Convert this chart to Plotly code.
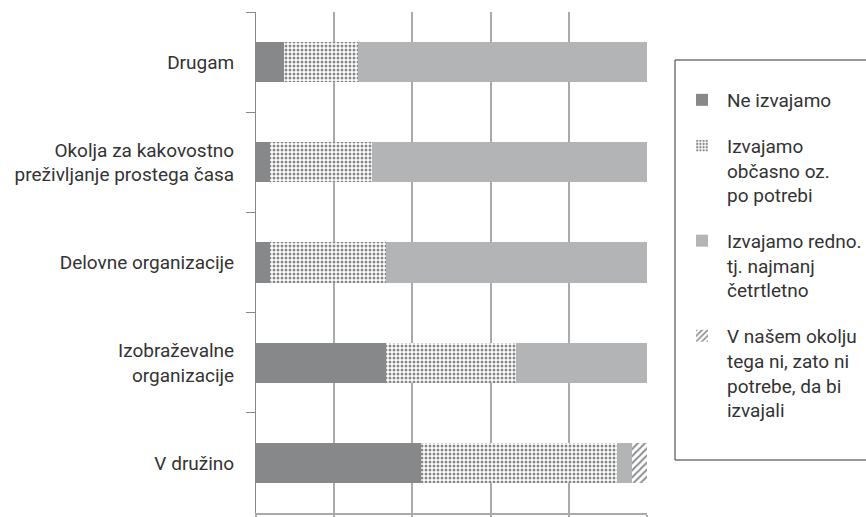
import plotly.graph_objects as go

# categories top to bottom
categories = [
    "Drugam",
    "Okolja za kakovostno<br>preživljanje prostega časa",
    "Delovne organizacije",
    "Izobraževalne<br>organizacije",
    "V družino",
]

# shares in %
ne_izvajamo = [7.2, 3.6, 3.6, 33.2, 42.2]
obcasno = [18.8, 26.0, 29.6, 33.4, 50.2]
redno = [74.0, 70.4, 66.8, 33.4, 3.7]
ni_potrebe = [0, 0, 0, 0, 3.9]

series_names = [
    "Ne izvajamo",
    "Izvajamo<br>občasno oz.<br>po potrebi",
    "Izvajamo redno.<br>tj. najmanj<br>četrtletno",
    "V našem okolju<br>tega ni, zato ni<br>potrebe, da bi<br>izvajali",
]

FONT = "Roboto"
TXT = "#333333"

fig = go.Figure()

fig.add_trace(go.Bar(
    y=categories, x=ne_izvajamo, orientation="h", name=series_names[0],
    legendgroup="a", marker=dict(color="#87888a", line=dict(width=0)),
))
fig.add_trace(go.Bar(
    y=categories, x=obcasno, orientation="h", name=series_names[1],
    legendgroup="b",
    marker=dict(color="white", line=dict(width=0),
                pattern=dict(shape=".", fgcolor="#111111", bgcolor="white",
                             size=4, solidity=0.45, fillmode="overlay")),
))
fig.add_trace(go.Bar(
    y=categories, x=redno, orientation="h", name=series_names[2],
    legendgroup="c", marker=dict(color="#b3b4b6", line=dict(width=0)),
))
fig.add_trace(go.Bar(
    y=categories, x=ni_potrebe, orientation="h", name=series_names[3],
    legendgroup="d",
    marker=dict(color="white", line=dict(width=0),
                pattern=dict(shape="/", fgcolor="#1a1a1a", bgcolor="white",
                             size=5, solidity=0.4, fillmode="overlay")),
))

W, H = 866, 517
L, R, T, B = 256, 219, 12, 4
pw = W - L - R
ph = H - T - B


def px_x(p):
    return (p - L) / pw


def px_y(p):
    return 1 - (p - T) / ph


# legend frame (runs off the right edge as in the original)
fig.add_shape(type="rect", xref="paper", yref="paper",
              x0=px_x(675), x1=px_x(890), y0=px_y(460), y1=px_y(60),
              line=dict(color="#333333", width=1), fillcolor="rgba(0,0,0,0)")

fig.update_layout(
    width=W, height=H,
    margin=dict(l=L, r=R, t=T, b=B, pad=0, autoexpand=False),
    barmode="stack",
    bargap=0.6,
    plot_bgcolor="white",
    paper_bgcolor="white",
    font=dict(family=FONT, size=19, color=TXT),
    legend=dict(
        x=px_x(677), y=px_y(81), xanchor="left", yanchor="top",
        bgcolor="rgba(0,0,0,0)", borderwidth=0,
        font=dict(family=FONT, size=19, color=TXT),
        traceorder="grouped", tracegroupgap=18, valign="top",
        itemwidth=40,
    ),
    showlegend=True,
)

fig.update_xaxes(
    range=[0, 100], tick0=0, dtick=20,
    showgrid=True, gridcolor="#aaaaaa", gridwidth=1.5,
    showline=True, linecolor="#aaaaaa", linewidth=1.5,
    ticks="outside", ticklen=4, tickcolor="#aaaaaa", tickwidth=1.5,
    showticklabels=False, zeroline=False,
)
fig.update_yaxes(
    autorange="reversed",
    showline=True, linecolor="#888888", linewidth=1,
    ticks="outside", tickson="boundaries", ticklen=9,
    tickcolor="#888888", tickwidth=1,
    ticklabelstandoff=17,
    showgrid=False,
)

# drop the default 8px page margin so the figure sits at the window's corner
fig.write_html("out.html", config={"displayModeBar": False},
               post_script="document.body.style.margin='0px';")
